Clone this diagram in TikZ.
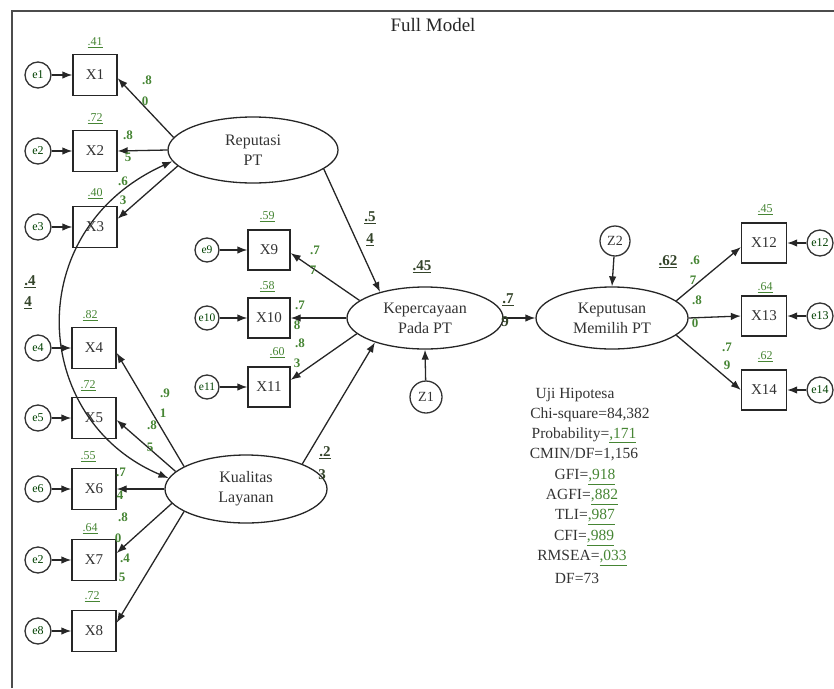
\documentclass[tikz,border=0pt]{standalone}
\usepackage{fontspec}
\setmainfont{Liberation Serif}
\usetikzlibrary{shapes.geometric,arrows.meta}
\definecolor{lg}{HTML}{468534}
\definecolor{pg}{HTML}{34442A}
\newcommand{\ulab}[1]{\underline{#1}}
\begin{document}
\begin{tikzpicture}[x=1pt,y=-1pt,
 obs/.style={draw=black!85, line width=1.3pt, minimum width=44pt, minimum height=41pt, inner sep=0pt, font=\fontsize{15}{15}\selectfont, text=black!80},
 obsm/.style={obs, minimum width=42pt, minimum height=40pt},
 obsr/.style={obs, minimum width=45pt, minimum height=40pt},
 err/.style={circle, draw=black!80, line width=1.3pt, minimum size=26pt, inner sep=0pt, font=\fontsize{12}{12}\selectfont, text=green!25!black},
 errm/.style={err, minimum size=24pt, font=\fontsize{11.5}{11.5}\selectfont},
 lat/.style={ellipse, draw=black!85, line width=1.3pt, inner sep=0pt, align=center, font=\fontsize{16}{20}\selectfont, text=black!80},
 arr/.style={-{Latex[length=10pt,width=7.5pt]}, line width=1.3pt, draw=black!85},
 ld/.style={font=\fontsize{13}{13}\selectfont\bfseries, text=lg, inner sep=0pt},
 sq/.style={font=\fontsize{12}{12}\selectfont, text=lg, inner sep=0pt},
 pc/.style={font=\fontsize{15}{15}\selectfont\bfseries, text=pg, inner sep=0pt},
 st/.style={font=\fontsize{15.5}{15.5}\selectfont, text=black!80, inner sep=0pt},
]
\useasboundingbox (0,0) rectangle (834,688);
% frame
\draw[line width=2.4pt, black!70] (12,688) -- (12,11) -- (834,11);
\node[font=\fontsize{19}{19}\selectfont, text=black!85] (title) at (433,25) {Full Model};

% latent variables
\node[lat, minimum width=170pt, minimum height=66pt] (rep) at (253,150) {Reputasi\\PT};
\node[lat, minimum width=162pt, minimum height=68pt] (kl) at (246,489) {Kualitas\\Layanan};
\node[lat, minimum width=156pt, minimum height=62pt] (kep) at (425,318) {Kepercayaan\\Pada PT};
\node[lat, minimum width=152pt, minimum height=62pt] (kpt) at (612,318) {Keputusan\\Memilih PT};
\node[err, minimum size=32pt, font=\fontsize{14}{14}\selectfont, text=black!80] (z1) at (426,397) {Z1};
\node[err, minimum size=30pt, font=\fontsize{14}{14}\selectfont, text=black!80] (z2) at (615,241) {Z2};

% observed left
\node[obs] (x1) at (95,75) {X1};
\node[obs] (x2) at (95,151) {X2};
\node[obs] (x3) at (95,227) {X3};
\node[obs] (x4) at (94,348) {X4};
\node[obs] (x5) at (94,418) {X5};
\node[obs] (x6) at (94,489) {X6};
\node[obs] (x7) at (94,560) {X7};
\node[obs] (x8) at (94,631) {X8};
\node[err] (e1) at (38,75) {e1};
\node[err] (e2) at (38,151) {e2};
\node[err] (e3) at (38,227) {e3};
\node[err] (e4) at (38,348) {e4};
\node[err] (e5) at (38,418) {e5};
\node[err] (e6) at (38,489) {e6};
\node[err] (e7) at (38,560) {e2};
\node[err] (e8) at (38,631) {e8};
% observed middle
\node[obsm] (x9) at (269,250) {X9};
\node[obsm] (x10) at (269,318) {X10};
\node[obsm] (x11) at (269,387) {X11};
\node[errm] (e9) at (207,250) {e9};
\node[errm] (e10) at (207,318) {e10};
\node[errm] (e11) at (207,387) {e11};
% observed right
\node[obsr] (x12) at (764,243) {X12};
\node[obsr] (x13) at (764,316) {X13};
\node[obsr] (x14) at (764,390) {X14};
\node[err] (e12) at (820,243) {e12};
\node[err] (e13) at (820,316) {e13};
\node[err] (e14) at (820,390) {e14};

% error arrows
\foreach \i in {1,...,11} \draw[arr] (e\i) -- (x\i);
\foreach \i in {12,13,14} \draw[arr] (e\i) -- (x\i);

% measurement arrows
\draw[arr] (rep.171) -- (x1.-8);
\draw[arr] (rep.west) -- (x2.east);
\draw[arr] (rep.192) -- (x3.20);
\draw[arr] (kl.160) -- (x4.-12);
\draw[arr] (kl.166) -- (x5.-5);
\draw[arr] (kl.west) -- (x6.east);
\draw[arr] (kl.191) -- (x7.17);
\draw[arr] (kl.200) -- (x8.20);
\draw[arr] (kep.165) -- (x9.-8);
\draw[arr] (kep.west) -- (x10.east);
\draw[arr] (kep.193) -- (x11.18);
\draw[arr] (kpt.15) -- (x12.190);
\draw[arr] (kpt.east) -- (x13.west);
\draw[arr] (kpt.-15) -- (x14.west);

% structural arrows
\draw[arr] (rep.-15) -- (kep.150);
\draw[arr] (kl.24) -- (kep.206);
\draw[arr] (kep.east) -- (kpt.west);
\draw[arr] (z1) -- (kep.south);
\draw[arr] (z2) -- (kpt.north);
\draw[{Latex[length=10pt,width=7.5pt]}-{Latex[length=10pt,width=7.5pt]}, line width=1.3pt, draw=black!85]
  (rep.188) .. controls (20,230) and (30,420) .. (kl.172);

% squared multiple correlations
\node[sq] (r1) at (95,43) {\ulab{.41}};
\node[sq] (r2) at (95,119) {\ulab{.72}};
\node[sq] (r3) at (95,194) {\ulab{.40}};
\node[sq] (r4) at (90,316) {\ulab{.82}};
\node[sq] (r5) at (88,386) {\ulab{.72}};
\node[sq] (r6) at (88,457) {\ulab{.55}};
\node[sq] (r7) at (90,529) {\ulab{.64}};
\node[sq] (r8) at (92,597) {\ulab{.72}};
\node[sq] (r9) at (267,217) {\ulab{.59}};
\node[sq] (r10) at (267,287) {\ulab{.58}};
\node[sq] (r11) at (277,353) {\ulab{.60}};
\node[sq] (r12) at (765,210) {\ulab{.45}};
\node[sq] (r13) at (765,288) {\ulab{.64}};
\node[sq] (r14) at (765,357) {\ulab{.62}};

% loadings
\node[ld] (l1a) at (147,80) {.8};  \node[ld] (l1b) at (145,101) {0};
\node[ld] (l2a) at (128,135) {.8}; \node[ld] (l2b) at (128,157) {5};
\node[ld] (l3a) at (123,181) {.6}; \node[ld] (l3b) at (123,200) {3};
\node[ld] (l4a) at (165,393) {.9}; \node[ld] (l4b) at (163,413) {1};
\node[ld] (l5a) at (152,425) {.8}; \node[ld] (l5b) at (150,447) {5};
\node[ld] (l6a) at (121,472) {.7}; \node[ld] (l6b) at (120,495) {4};
\node[ld] (l7a) at (123,517) {.8}; \node[ld] (l7b) at (118,538) {0};
\node[ld] (l8a) at (125,558) {.4}; \node[ld] (l8b) at (122,577) {5};
\node[ld] (l9a) at (315,250) {.7}; \node[ld] (l9b) at (313,270) {7};
\node[ld] (l10a) at (300,305) {.7}; \node[ld] (l10b) at (297,325) {8};
\node[ld] (l11a) at (300,343) {.8}; \node[ld] (l11b) at (297,363) {3};
\node[ld] (l12a) at (695,260) {.6}; \node[ld] (l12b) at (693,280) {7};
\node[ld] (l13a) at (697,300) {.8}; \node[ld] (l13b) at (695,323) {0};
\node[ld] (l14a) at (727,347) {.7}; \node[ld] (l14b) at (727,365) {9};

% path coefficients
\node[pc] (p1a) at (370,218) {\ulab{.5}}; \node[pc] (p1b) at (370,240) {\ulab{4}};
\node[pc] (p2) at (422,267) {\ulab{.45}};
\node[pc] (p3a) at (508,300) {\ulab{.7}}; \node[pc] (p3b) at (505,322) {9};
\node[pc] (p4) at (668,262) {\ulab{.62}};
\node[pc] (p5a) at (30,282) {\ulab{.4}}; \node[pc] (p5b) at (28,303) {\ulab{4}};
\node[pc] (p6a) at (325,453) {\ulab{.2}}; \node[pc] (p6b) at (322,475) {3};

% fit statistics
\node[st] (t1) at (575,395) {Uji Hipotesa};
\node[st] (t2) at (590,415) {Chi-square=84,382};
\node[st] (t3) at (584,435) {Probability=\textcolor{lg}{\ulab{,171}}};
\node[st] (t4) at (584,455) {CMIN/DF=1,156};
\node[st] (t5) at (585,477) {GFI=\textcolor{lg}{\ulab{,918}}};
\node[st] (t6) at (582,497) {AGFI=\textcolor{lg}{\ulab{,882}}};
\node[st] (t7) at (585,517) {TLI=\textcolor{lg}{\ulab{,987}}};
\node[st] (t8) at (584,538) {CFI=\textcolor{lg}{\ulab{,989}}};
\node[st] (t9) at (582,558) {RMSEA=\textcolor{lg}{\ulab{,033}}};
\node[st] (t10) at (577,578) {DF=73};
\end{tikzpicture}
\end{document}
